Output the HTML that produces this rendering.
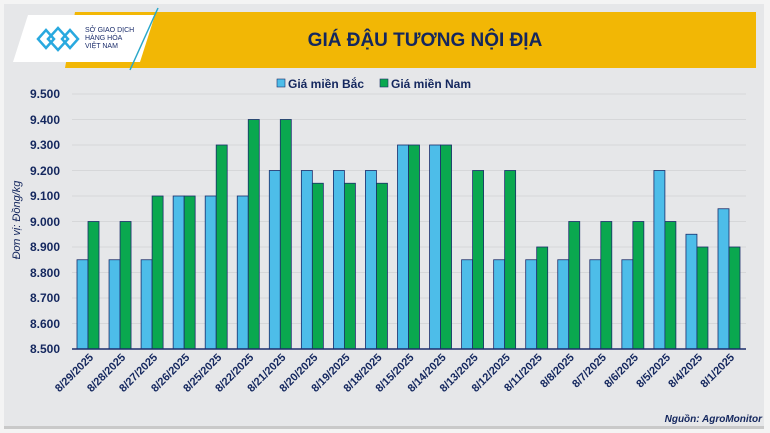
<!DOCTYPE html>
<html><head><meta charset="utf-8"><style>
html,body{margin:0;padding:0;background:#fff}
svg{display:block}
text{font-family:"Liberation Sans","DejaVu Sans",sans-serif}
</style></head><body>
<svg width="770" height="433" viewBox="0 0 770 433" xmlns="http://www.w3.org/2000/svg">
<rect width="770" height="433" fill="#f4f4f4"/>
<rect x="4" y="4" width="760" height="424" fill="#e6e7e9"/>
<rect x="4" y="426" width="760" height="3" fill="#c9c9c9"/>
<polygon points="75,12 756,12 756,68 65,68" fill="#f2b705"/>
<polygon points="28,15 155,15 140,62 13,62" fill="#ffffff"/>
<line x1="158" y1="8" x2="130" y2="70" stroke="#2aa7c9" stroke-width="1.5"/>
<g fill="none" stroke="#29a9df" stroke-width="2.5">
<path d="M38,39 l8,-9 l8,9 l-8,9z"/><path d="M48,39 l10,-11 l10,11 l-10,11z"/><path d="M62,39 l8,-9 l8,9 l-8,9z"/>
</g>
<text x="85" y="32" font-size="7" fill="#1b2d6b">SỞ GIAO DỊCH</text>
<text x="85" y="40" font-size="7" fill="#1b2d6b">HÀNG HÓA</text>
<text x="85" y="48" font-size="7" fill="#1b2d6b">VIỆT NAM</text>
<text x="425" y="46" font-size="19" font-weight="bold" fill="#14275e" text-anchor="middle">GIÁ ĐẬU TƯƠNG NỘI ĐỊA</text>
<rect x="277" y="79" width="8" height="8" fill="#4dbde9" stroke="#1b2d6b" stroke-width="0.6"/>
<text x="288" y="88" font-size="12" font-weight="bold" fill="#14275e">Giá miền Bắc</text>
<rect x="380" y="79" width="8" height="8" fill="#0aa84f" stroke="#1b2d6b" stroke-width="0.6"/>
<text x="391" y="88" font-size="12" font-weight="bold" fill="#14275e">Giá miền Nam</text>
<g stroke="#d6d7d9" stroke-width="1">
<line x1="72" x2="746" y1="94" y2="94"/><line x1="72" x2="746" y1="119.5" y2="119.5"/><line x1="72" x2="746" y1="145" y2="145"/><line x1="72" x2="746" y1="170.5" y2="170.5"/><line x1="72" x2="746" y1="196" y2="196"/><line x1="72" x2="746" y1="221.5" y2="221.5"/><line x1="72" x2="746" y1="247" y2="247"/><line x1="72" x2="746" y1="272.5" y2="272.5"/><line x1="72" x2="746" y1="298" y2="298"/><line x1="72" x2="746" y1="323.5" y2="323.5"/>
</g>
<g font-size="12" font-weight="bold" fill="#14275e" text-anchor="end">
<text x="60" y="98">9.500</text><text x="60" y="124">9.400</text><text x="60" y="149">9.300</text><text x="60" y="175">9.200</text><text x="60" y="200">9.100</text><text x="60" y="226">9.000</text><text x="60" y="251">8.900</text><text x="60" y="277">8.800</text><text x="60" y="302">8.700</text><text x="60" y="328">8.600</text><text x="60" y="353">8.500</text>
</g>
<text transform="translate(20,220) rotate(-90)" font-size="11" font-style="italic" fill="#14275e" text-anchor="middle">Đơn vị: Đồng/kg</text>
<g id="bars" stroke="#1b2d6b" stroke-width="0.8"></g>
<line x1="72" x2="746" y1="349" y2="349" stroke="#1b2d6b" stroke-width="1.5"/>
<g id="labels" font-size="11" font-weight="bold" fill="#14275e" text-anchor="end"></g>
<text x="762" y="422" font-size="10" font-weight="bold" font-style="italic" fill="#14275e" text-anchor="end">Nguồn: AgroMonitor</text>
</svg>
<script>
var d=[["8/29/2025",8850,9000],["8/28/2025",8850,9000],["8/27/2025",8850,9100],["8/26/2025",9100,9100],["8/25/2025",9100,9300],["8/22/2025",9100,9400],["8/21/2025",9200,9400],["8/20/2025",9200,9150],["8/19/2025",9200,9150],["8/18/2025",9200,9150],["8/15/2025",9300,9300],["8/14/2025",9300,9300],["8/13/2025",8850,9200],["8/12/2025",8850,9200],["8/11/2025",8850,8900],["8/8/2025",8850,9000],["8/7/2025",8850,9000],["8/6/2025",8850,9000],["8/5/2025",9200,9000],["8/4/2025",8950,8900],["8/1/2025",9050,8900]];
var ns="http://www.w3.org/2000/svg",b=document.getElementById("bars"),l=document.getElementById("labels");
function y(v){return 349-(v-8500)*0.255;}
d.forEach(function(r,i){var x=77+i*32.05;
[[r[1],"#4dbde9",0],[r[2],"#0aa84f",11]].forEach(function(s){var e=document.createElementNS(ns,"rect");e.setAttribute("x",x+s[2]);e.setAttribute("width",11);e.setAttribute("y",y(s[0]));e.setAttribute("height",349-y(s[0]));e.setAttribute("fill",s[1]);b.appendChild(e);});
var t=document.createElementNS(ns,"text");t.setAttribute("transform","translate("+(x+17)+",358) rotate(-45)");t.textContent=r[0];l.appendChild(t);});
</script>
</body></html>
